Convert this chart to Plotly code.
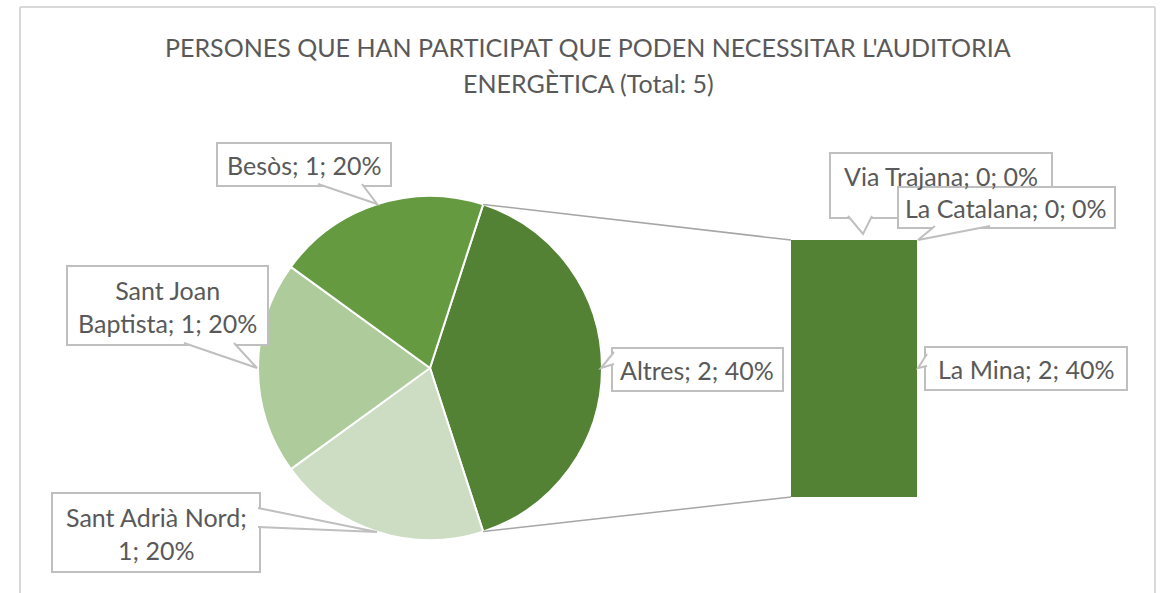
import math
import plotly.graph_objects as go

# ---------------- data ----------------
pie_labels = ["Altres", "Sant Adrià Nord", "Sant Joan Baptista", "Besòs"]
pie_values = [2, 1, 1, 1]
pie_colors = ["#548235", "#CCDDC3", "#AECB9B", "#659A41"]

bar_labels = ["La Mina", "Via Trajana", "La Catalana"]
bar_values = [2, 0, 0]
bar_color = "#548235"

title_lines = ["PERSONES QUE HAN PARTICIPAT QUE PODEN NECESSITAR L'AUDITORIA",
               "ENERGÈTICA (Total: 5)"]

total = sum(pie_values)

# ---------------- geometry (screen pixels of the reference) ----------------
W, H = 1162, 593
PIE_CX, PIE_CY, PIE_R = 430, 368, 172
ROTATION = 18
BAR_X0, BAR_X1, BAR_Y0, BAR_Y1 = 791, 917, 240, 497

TXT = "#595959"
BORDER = "#BFBFBF"
FONT = "Lato"
LABEL_SIZE = 25
TITLE_SIZE = 25


def X(px):
    return px / W


def Y(py):
    return 1 - py / H


fig = go.Figure()

fig.add_trace(go.Pie(
    labels=pie_labels, values=pie_values, sort=False, direction="clockwise",
    rotation=ROTATION, textinfo="none", hoverinfo="label+value+percent",
    marker=dict(colors=pie_colors, line=dict(color="white", width=2)),
    domain=dict(x=[X(PIE_CX - PIE_R), X(PIE_CX + PIE_R)],
                y=[Y(PIE_CY + PIE_R), Y(PIE_CY - PIE_R)]),
    showlegend=False,
))

for lab, val in zip(bar_labels, bar_values):
    fig.add_trace(go.Bar(x=[0], y=[val], name=lab, width=[1],
                         marker=dict(color=bar_color, line=dict(width=0)),
                         showlegend=False))

shapes = []
# chart border (left, top, right)
for (ax, ay, bx, by) in [(20, 7, 20, 600), (20, 7, 1155, 7), (1155, 7, 1155, 600)]:
    shapes.append(dict(type="line", xref="paper", yref="paper",
                       x0=X(ax), y0=Y(ay), x1=X(bx), y1=Y(by),
                       line=dict(color="#D9D9D9", width=2)))

# connector lines from the "Altres" slice edges to the bar corners
a_start = math.radians(ROTATION)
a_end = math.radians(ROTATION + 360 * pie_values[0] / total)
p_top = (PIE_CX + PIE_R * math.sin(a_start), PIE_CY - PIE_R * math.cos(a_start))
p_bot = (PIE_CX + PIE_R * math.sin(a_end), PIE_CY - PIE_R * math.cos(a_end))
for (px, py), (bx, by) in [(p_top, (BAR_X0, BAR_Y0)), (p_bot, (BAR_X0, BAR_Y1))]:
    shapes.append(dict(type="line", xref="paper", yref="paper",
                       x0=X(px), y0=Y(py), x1=X(bx), y1=Y(by),
                       line=dict(color="#A6A6A6", width=1.5)))

# label callouts: box, wedge (b1, b2, tip), text centre, side
callouts = {
    "Besòs": dict(box=(217, 143, 391, 186), b1=(318, 186), b2=(362, 186), tip=(377, 204), side="b", tc=(304, 165)),
    "Sant Joan Baptista": dict(box=(67, 266, 268, 345), b1=(184, 345), b2=(234, 345), tip=(257, 368), side="b", tc=(167, 306)),
    "Sant Adrià Nord": dict(box=(52, 493, 260, 572), b1=(260, 508), b2=(260, 527), tip=(377, 532), side="r", tc=(156, 533)),
    "Altres": dict(box=(612, 348, 783, 391), b1=(612, 352), b2=(612, 364), tip=(601, 368), side="l", tc=(697, 370)),
    "Via Trajana": dict(box=(830, 153, 1052, 218), b1=(848, 218), b2=(872, 218), tip=(863, 234), side="b", tc=(941, 176)),
    "La Catalana": dict(box=(898, 187, 1115, 228), b1=(935, 228), b2=(990, 228), tip=(918, 240), side="b", tc=(1006, 208)),
    "La Mina": dict(box=(925, 347, 1127, 390), b1=(925, 354), b2=(925, 366), tip=(918, 368), side="l", tc=(1026, 369)),
}
line_breaks = {"Sant Joan Baptista": ("Sant Joan", "Baptista; {v}; {p}%"),
               "Sant Adrià Nord": ("Sant Adrià Nord;", "{v}; {p}%")}

annotations = []
vals = dict(list(zip(pie_labels, pie_values)) + list(zip(bar_labels, bar_values)))
order = ["Besòs", "Sant Joan Baptista", "Sant Adrià Nord", "Altres", "La Mina", "Via Trajana", "La Catalana"]
inset = {"b": (0, -2), "t": (0, 2), "l": (2, 0), "r": (-2, 0)}
for name in order:
    c = callouts[name]
    x0, y0, x1, y1 = c["box"]
    shapes.append(dict(type="rect", xref="paper", yref="paper", x0=X(x0), x1=X(x1), y0=Y(y0), y1=Y(y1),
                       line=dict(color=BORDER, width=2), fillcolor="white"))
    dx, dy = inset[c["side"]]
    b1 = (c["b1"][0] + dx, c["b1"][1] + dy)
    b2 = (c["b2"][0] + dx, c["b2"][1] + dy)
    t = c["tip"]
    shapes.append(dict(type="path", xref="paper", yref="paper",
                       path=f"M {X(b1[0])} {Y(b1[1])} L {X(t[0])} {Y(t[1])} L {X(b2[0])} {Y(b2[1])} Z",
                       line=dict(width=0), fillcolor="white"))
    shapes.append(dict(type="path", xref="paper", yref="paper",
                       path=f"M {X(b1[0])} {Y(b1[1])} L {X(t[0])} {Y(t[1])} L {X(b2[0])} {Y(b2[1])}",
                       line=dict(color=BORDER, width=2), fillcolor="rgba(0,0,0,0)"))
    v = vals[name]
    p = round(100 * v / total)
    if name in line_breaks:
        text = "<br>".join(s.format(v=v, p=p) for s in line_breaks[name])
    else:
        text = f"{name}; {v}; {p}%"
    annotations.append(dict(xref="paper", yref="paper", x=X(c["tc"][0]), y=Y(c["tc"][1]),
                            text=text, showarrow=False, xanchor="center", yanchor="middle",
                            font=dict(family=FONT, size=LABEL_SIZE, color=TXT), align="center"))

for line, cy in zip(title_lines, [47, 83]):
    annotations.append(dict(xref="paper", yref="paper", x=X(588), y=Y(cy), text=line,
                            showarrow=False, xanchor="center", yanchor="middle",
                            font=dict(family=FONT, size=TITLE_SIZE, color=TXT)))

fig.update_layout(
    width=W, height=H, margin=dict(l=0, r=0, t=0, b=0),
    paper_bgcolor="white", plot_bgcolor="white",
    barmode="stack", bargap=0,
    xaxis=dict(domain=[X(BAR_X0), X(BAR_X1)], range=[-0.5, 0.5], visible=False, fixedrange=True),
    yaxis=dict(domain=[Y(BAR_Y1), Y(BAR_Y0)], range=[0, sum(bar_values)], visible=False, fixedrange=True),
    shapes=shapes, annotations=annotations,
)

fig.write_html("out.html", config={"displayModeBar": False},
               post_script="document.body.style.margin='0';document.body.style.overflow='hidden';")
